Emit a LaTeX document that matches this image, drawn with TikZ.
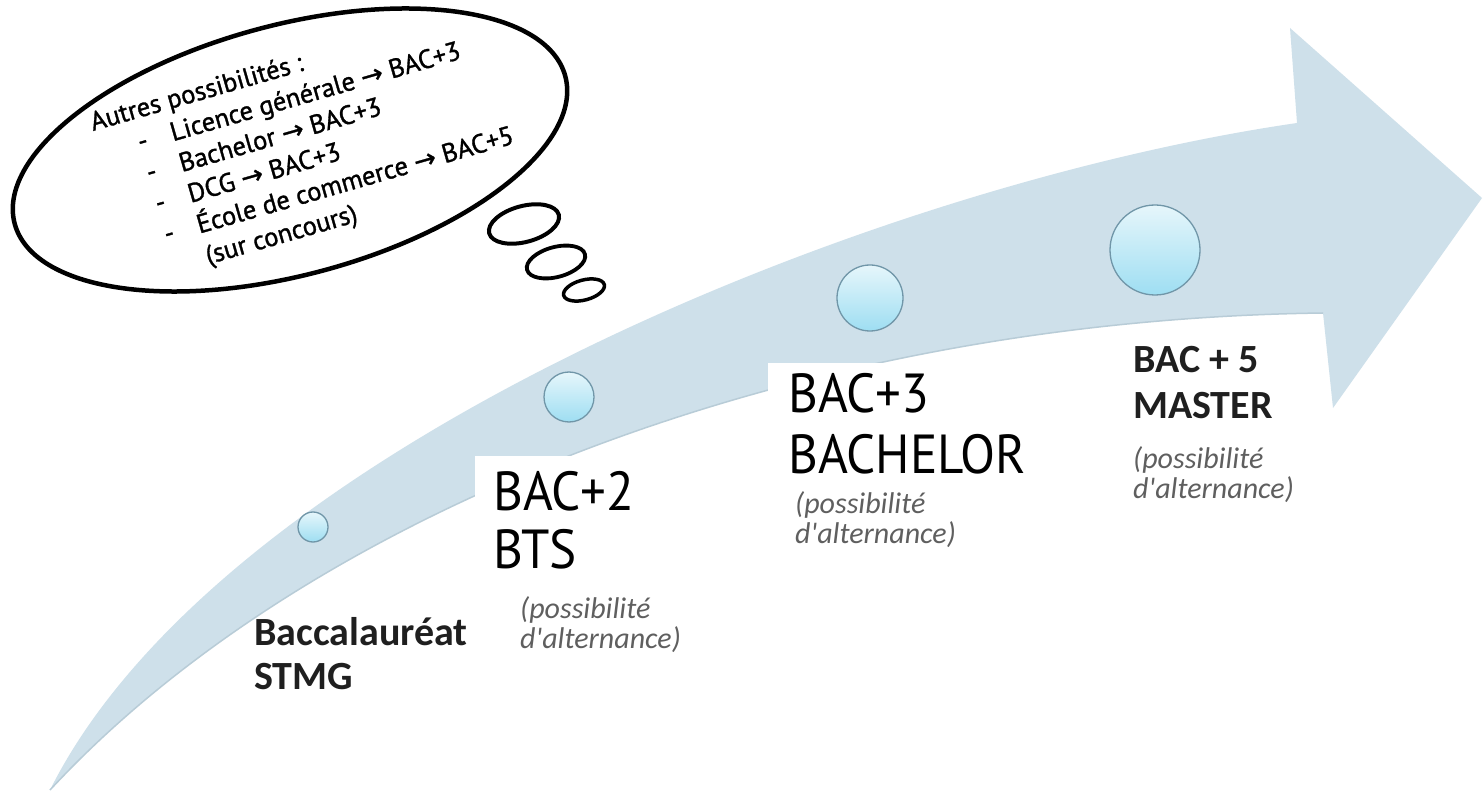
\documentclass[tikz,border=0pt]{standalone}
\usepackage{fontspec}
\usetikzlibrary{shapes.geometric}
\setmainfont{PT Sans}
\newfontfamily\boxfont[FakeStretch=0.93]{PT Sans}
\newfontfamily\lblfont{Carlito}
\newfontfamily\thinkfont[FakeBold=1.2]{PT Sans}
\newfontfamily\arrowfont[FakeBold=1]{DejaVu Sans}
\newcommand{\rarr}{{\arrowfont →}}
\definecolor{bandblue}{RGB}{206,224,234}
\definecolor{bandedge}{RGB}{184,204,215}
\definecolor{dotborder}{RGB}{112,150,168}
\definecolor{dottop}{RGB}{230,246,251}
\definecolor{dotbottom}{RGB}{158,222,242}
\definecolor{noteGray}{RGB}{95,95,95}
\tikzset{
  dot/.style={circle, inner sep=0pt, draw=dotborder, line width=1.3pt, top color=dottop, bottom color=dotbottom},
  boxlbl/.style={anchor=base west, inner sep=0pt, font=\boxfont\fontsize{55}{60}\selectfont},
  boldlbl/.style={anchor=base west, inner sep=0pt, font=\lblfont\bfseries\fontsize{40}{45}\selectfont, text=black!88},
  notelbl/.style={anchor=base west, inner sep=0pt, font=\lblfont\itshape\fontsize{30}{30}\selectfont, text=noteGray},
  think/.style={anchor=base west, inner sep=0pt, font=\thinkfont\fontsize{26.5}{30}\selectfont},
  thought/.style={ellipse, draw=black, inner sep=0pt, line width=4.5pt},
  whitebox/.style={fill=white, draw=none, inner sep=0pt, anchor=north west},
}
\begin{document}
\begin{tikzpicture}[x=1pt,y=-1pt]
\useasboundingbox (0,0) rectangle (1483,799);
\fill[white] (0,0) rectangle (1483,799);
% curved arrow band
\fill[bandblue] (50,790) .. controls (220,450) and (870,185) .. (1297,123)
  -- (1290,28) -- (1482,198) -- (1333,408) -- (1323,313)
  .. controls (780,320) and (300,520) .. (50,790) -- cycle;
\draw[bandedge, line width=1.5pt] (1323,313) .. controls (780,320) and (300,520) .. (50,790);
% stage dots
\node[dot, minimum size=30pt] (c1) at (313,527) {};
\node[dot, minimum size=50pt] (c2) at (569,397) {};
\node[dot, minimum size=66pt] (c3) at (870,298) {};
\node[dot, minimum size=90pt] (c4) at (1155,250) {};
% white label boxes
\node[whitebox, minimum width=293pt, minimum height=132pt] (box2) at (475,456) {};
\node[whitebox, minimum width=295pt, minimum height=124pt] (box3) at (768,363) {};
% labels
\node[boldlbl] (bac) at (254,645) {Baccalauréat};
\node[boldlbl] (stmg) at (254,689) {STMG};
\node[boxlbl] (bac2) at (493,510) {BAC+2};
\node[boxlbl] (bts) at (493,568) {BTS};
\node[notelbl] (p2a) at (520,618) {(possibilité};
\node[notelbl] (p2b) at (520,648) {d'alternance)};
\node[boxlbl] (bac3) at (788,412) {BAC+3};
\node[boxlbl] (bach) at (788,473) {BACHELOR};
\node[notelbl] (p3a) at (795,513) {(possibilité};
\node[notelbl] (p3b) at (795,543) {d'alternance)};
\node[boldlbl] (bac5) at (1133,373) {BAC + 5};
\node[boldlbl] (master) at (1133,418) {MASTER};
\node[notelbl] (p5a) at (1133,468) {(possibilité};
\node[notelbl] (p5b) at (1133,498) {d'alternance)};
% thought bubble
\node[thought, minimum width=570pt, minimum height=250pt, rotate=15] (cloud) at (290,150) {};
\node[thought, line width=4pt, minimum width=72pt, minimum height=36pt, rotate=15] (b1) at (524,224) {};
\node[thought, line width=3.8pt, minimum width=60pt, minimum height=30pt, rotate=15] (b2) at (556,262) {};
\node[thought, line width=3.5pt, minimum width=42pt, minimum height=20pt, rotate=15] (b3) at (584,290) {};
\begin{scope}[shift={(93,131)}, rotate=16, transform shape]
  \node[think] (t0) at (0,0) {Autres possibilités :};
  \node[think] (d1) at (40,32) {-};
  \node[think] (t1) at (74,32) {Licence générale \rarr{} BAC+3};
  \node[think] (d2) at (40,64) {-};
  \node[think] (t2) at (74,64) {Bachelor \rarr{} BAC+3};
  \node[think] (d3) at (40,96) {-};
  \node[think] (t3) at (74,96) {DCG \rarr{} BAC+3};
  \node[think] (d4) at (40,128) {-};
  \node[think] (t4) at (74,128) {École de commerce \rarr{} BAC+5};
  \node[think] (t5) at (74,160) {(sur concours)};
\end{scope}
\end{tikzpicture}
\end{document}
